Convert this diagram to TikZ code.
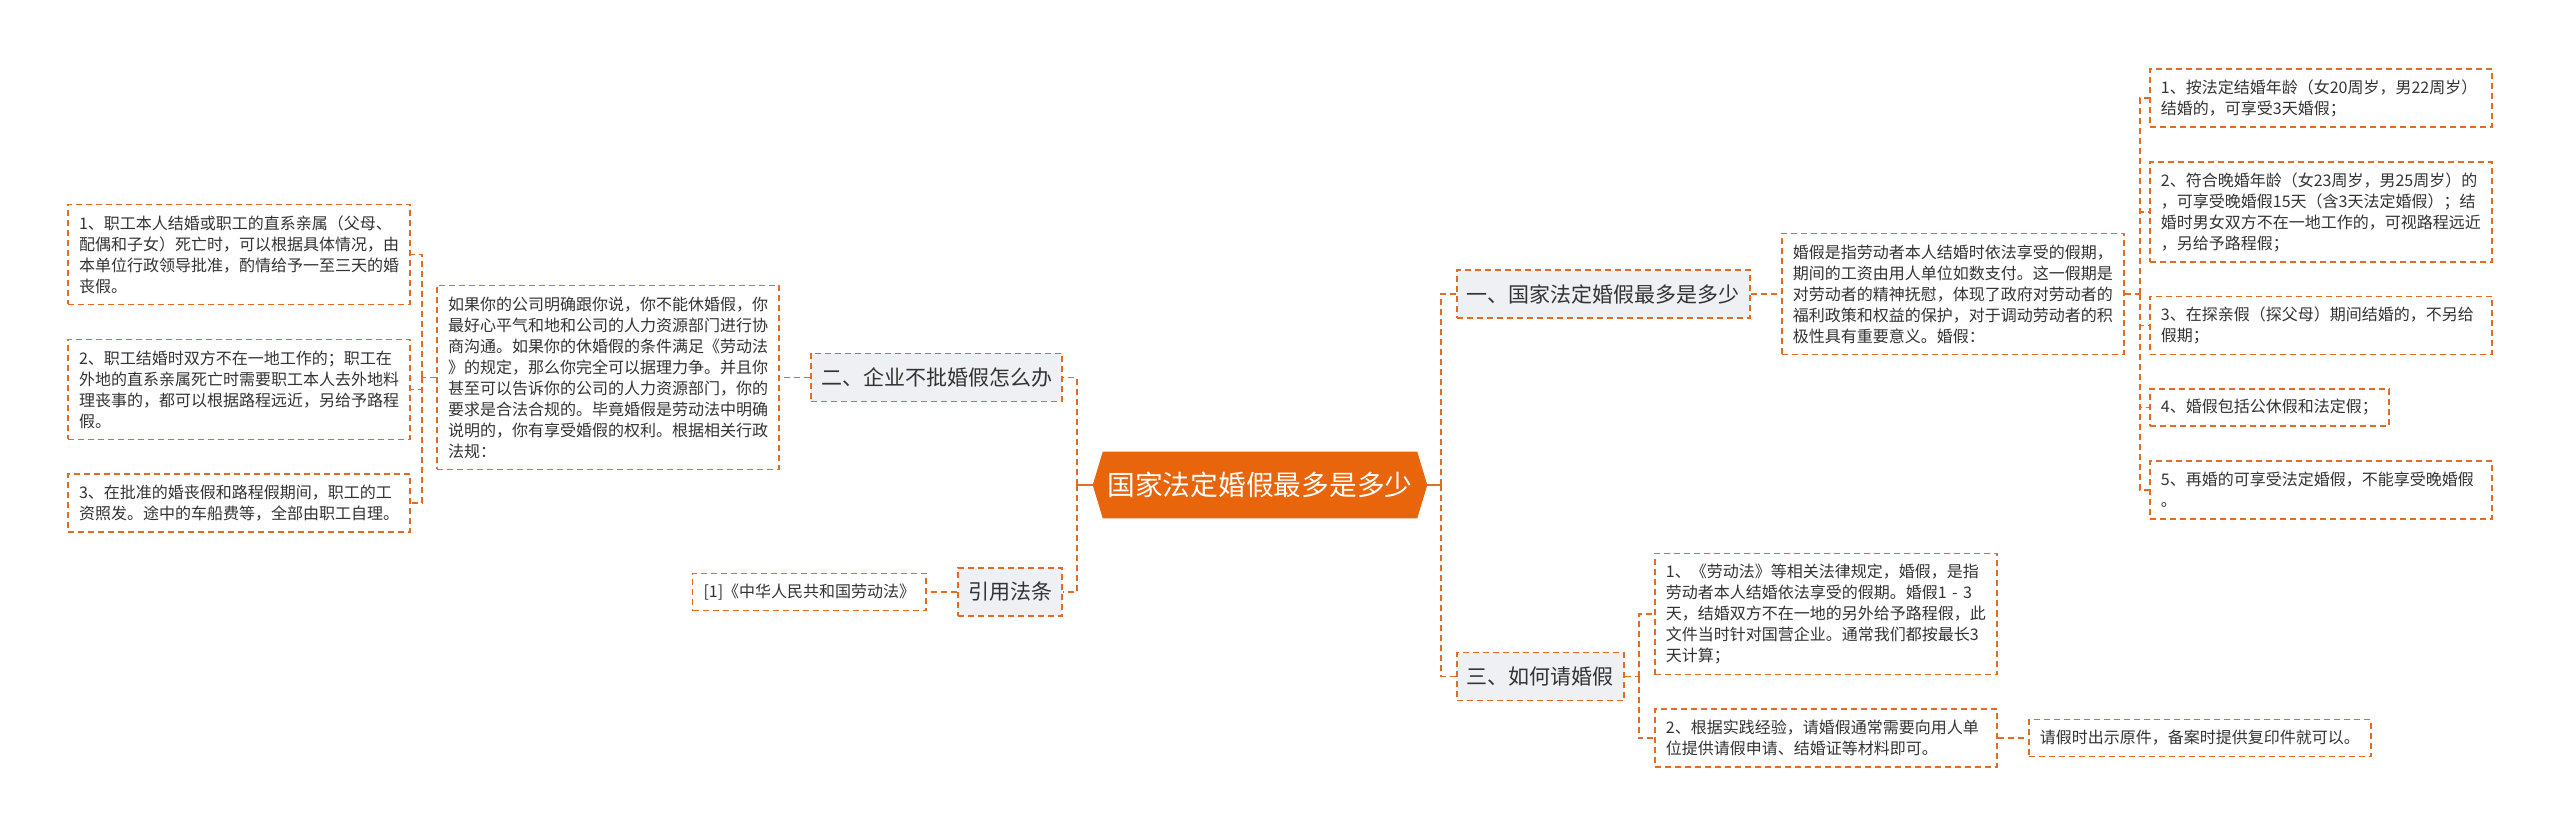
\documentclass[tikz,border=0pt]{standalone}
\usepackage{fontspec}
\setmainfont{Noto Sans CJK SC}
\usetikzlibrary{positioning,backgrounds,calc}

\definecolor{mapline}{RGB}{226,108,36}
\definecolor{hubfill}{RGB}{232,101,12}
\definecolor{topicfill}{RGB}{238,240,244}
\definecolor{inkgray}{RGB}{51,51,51}

\begin{document}
\begin{tikzpicture}[
	x=0.75pt, y=-0.75pt,
	link/.style={draw=mapline, line width=1.4pt, dash pattern=on 4.5pt off 3pt},
	hublink/.style={draw=mapline, line width=1.4pt},
	hub/.style={
		minimum width=235.5pt,
		minimum height=49.5pt,
		inner sep=0pt,
		text=white,
		font=\fontsize{20.8}{25}\selectfont,
	},
	topic/.style={
		link,
		fill=topicfill,
		text=inkgray,
		inner xsep=7.5pt,
		inner ysep=4pt,
		minimum height=36pt,
		font=\fontsize{15.75}{19}\selectfont,
	},
	tag/.style={
		link,
		text=inkgray,
		inner xsep=8.25pt,
		inner ysep=4pt,
		minimum height=27.75pt,
		font=\fontsize{12}{15.75}\selectfont,
	},
	para/.style={tag, text width=240pt, align=left},
	lines/.style={minimum height=#1*15.75pt+12pt},
]

\useasboundingbox (0,0) rectangle (2560,837);
\begin{scope}[on background layer]
\fill[white] (0,0) rectangle (2560,837);
\end{scope}

% Ústřední uzel
\node[hub] (root) at (1260,485) {国家法定婚假最多是多少};
\begin{scope}[on background layer]
\fill[hubfill] (root.north west) -- (root.north east) -- ([xshift=7.5pt]root.east)
	-- (root.south east) -- (root.south west) -- ([xshift=-7.5pt]root.west) -- cycle;
\end{scope}
\coordinate (rtip) at ([xshift=7.5pt]root.east);
\coordinate (ltip) at ([xshift=-7.5pt]root.west);
\coordinate (rjoint) at ([xshift=10.5pt]rtip);
\coordinate (ljoint) at ([xshift=-12pt]ltip);

% Hlavní větve
\node[topic, anchor=west] (one) at (1456,294) {一、国家法定婚假最多是多少};
\node[topic, anchor=west] (three) at (1456,676.5) {三、如何请婚假};
\node[topic, anchor=east] (two) at (1063,377.5) {二、企业不批婚假怎么办};
\node[topic, anchor=east] (cite) at (1063,592) {引用法条};

% Větev jedna
\node[para, lines=5, right=22.5pt of one] (desc) {婚假是指劳动者本人结婚时依法享受的假期，\\期间的工资由用人单位如数支付。这一假期是\\对劳动者的精神抚慰，体现了政府对劳动者的\\福利政策和权益的保护，对于调动劳动者的积\\极性具有重要意义。婚假：};
\node[para, lines=2, anchor=west] (r1) at (2149,98) {1、按法定结婚年龄（女20周岁，男22周岁）\\结婚的，可享受3天婚假；};
\node[para, lines=4, anchor=west] (r2) at (2149,212) {2、符合晚婚年龄（女23周岁，男25周岁）的\\，可享受晚婚假15天（含3天法定婚假）；结\\婚时男女双方不在一地工作的，可视路程远近\\，另给予路程假；};
\node[para, lines=2, anchor=west] (r3) at (2149,325.5) {3、在探亲假（探父母）期间结婚的，不另给\\假期；};
\node[tag, anchor=west] (r4) at (2149,407.5) {4、婚假包括公休假和法定假；};
\node[para, lines=2, anchor=west] (r5) at (2149,490) {5、再婚的可享受法定婚假，不能享受晚婚假\\。};
\coordinate (dj) at ([xshift=11.25pt]desc.east);

% Větev dvě
\node[para, lines=8, left=22.5pt of two] (para) {如果你的公司明确跟你说，你不能休婚假，你\\最好心平气和地和公司的人力资源部门进行协\\商沟通。如果你的休婚假的条件满足《劳动法\\》的规定，那么你完全可以据理力争。并且你\\甚至可以告诉你的公司的人力资源部门，你的\\要求是合法合规的。毕竟婚假是劳动法中明确\\说明的，你有享受婚假的权利。根据相关行政\\法规：};
\node[para, lines=4, anchor=east] (p1) at (411,254.5) {1、职工本人结婚或职工的直系亲属（父母、\\配偶和子女）死亡时，可以根据具体情况，由\\本单位行政领导批准，酌情给予一至三天的婚\\丧假。};
\node[para, lines=4, anchor=east] (p2) at (411,389.5) {2、职工结婚时双方不在一地工作的；职工在\\外地的直系亲属死亡时需要职工本人去外地料\\理丧事的，都可以根据路程远近，另给予路程\\假。};
\node[para, lines=2, anchor=east] (p3) at (411,503) {3、在批准的婚丧假和路程假期间，职工的工\\资照发。途中的车船费等，全部由职工自理。};
\coordinate (pj) at ([xshift=-10.5pt]para.west);

% Větev tři
\node[para, lines=5, anchor=west] (t1) at (1654,614) {1、《劳动法》等相关法律规定，婚假，是指\\劳动者本人结婚依法享受的假期。婚假1 - 3\\天，结婚双方不在一地的另外给予路程假，此\\文件当时针对国营企业。通常我们都按最长3\\天计算；};
\node[para, lines=2, anchor=west] (t2) at (1654,738) {2、根据实践经验，请婚假通常需要向用人单\\位提供请假申请、结婚证等材料即可。};
\node[tag, right=22.5pt of t2] (t2a) {请假时出示原件，备案时提供复印件就可以。};
\coordinate (tj) at ([xshift=10.5pt]three.east);

% Citace
\node[tag, left=22.5pt of cite] (law) {[1]《中华人民共和国劳动法》};

% Spojnice
\draw[hublink] (rtip) -- (rjoint);
\draw[hublink] (ltip) -- (ljoint);
\draw[link] (rjoint) |- (one.west);
\draw[link] (rjoint) |- (three.west);
\draw[link] (ljoint) |- (two.east);
\draw[link] (ljoint) |- (cite.east);

\draw[link] (one.east) -- (desc.west);
\draw[link] (desc.east) -- (dj);
\foreach \leaf in {r1,r2,r3,r4,r5}
	\draw[link] (dj) |- (\leaf.west);

\draw[link] (two.west) -- (para.east);
\draw[link] (para.west) -- (pj);
\foreach \leaf in {p1,p2,p3}
	\draw[link] (pj) |- (\leaf.east);

\draw[link] (three.east) -- (tj);
\draw[link] (tj) |- (t1.west);
\draw[link] (tj) |- (t2.west);
\draw[link] (t2.east) -- (t2a.west);

\draw[link] (cite.west) -- (law.east);

\end{tikzpicture}
\end{document}
